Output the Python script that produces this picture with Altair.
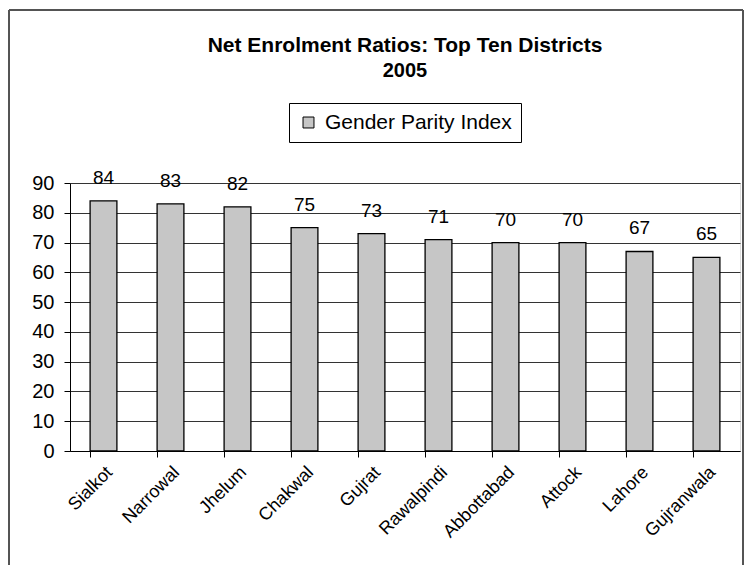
import altair as alt
import pandas as pd

districts = ["Sialkot", "Narrowal", "Jhelum", "Chakwal", "Gujrat", "Rawalpindi",
             "Abbottabad", "Attock", "Lahore", "Gujranwala"]
values = [84, 83, 82, 75, 73, 71, 70, 70, 67, 65]
series = "Gender Parity Index"
y_ticks = [0, 10, 20, 30, 40, 50, 60, 70, 80, 90]

df = pd.DataFrame({"district": districts, "value": values, "series": series})

FONT = "Liberation Sans"

x_enc = alt.X("district:N", sort=districts, title=None,
              scale=alt.Scale(paddingInner=0.6, paddingOuter=0.3),
              axis=alt.Axis(labelAngle=-45, labelFontSize=18, labelColor="black",
                            labelFont=FONT, bandPosition=0, tickSize=6,
                            tickColor="black", domainColor="black", labelPadding=6,
                            grid=False, labelOverlap=False))
y_enc = alt.Y("value:Q", title=None,
              scale=alt.Scale(domain=[0, 90], nice=False),
              axis=alt.Axis(values=y_ticks, labelFontSize=20, labelColor="black",
                            labelFont=FONT, tickSize=6, tickColor="black",
                            domainColor="black", gridColor="#333333", gridWidth=1,
                            labelPadding=10, labelOverlap=False))

bars = alt.Chart(df).mark_bar(stroke="black", strokeWidth=1.3).encode(
    x=x_enc, y=y_enc,
    color=alt.Color("series:N", scale=alt.Scale(range=["#c6c6c6"]),
                    legend=alt.Legend(title=None, orient="none", legendX=219, legendY=-80,
                                      labelFontSize=21, labelFont=FONT, labelColor="black",
                                      labelLimit=400,
                                      symbolType="square", symbolSize=120,
                                      symbolStrokeColor="black", symbolStrokeWidth=1,
                                      strokeColor="black", padding=9, labelOffset=6))
)

labels = alt.Chart(df).mark_text(fontSize=19, font=FONT, color="black",
                                 baseline="middle", dy=-23).encode(
    x=x_enc, y=y_enc,
    text=alt.Text("value:Q")
)

frame_style = dict(stroke="#555555", strokeWidth=1.2)
frame_top = alt.Chart(df).mark_rule(**frame_style).encode(
    x=alt.value(-61), x2=alt.value(673), y=alt.value(-173))
frame_left = alt.Chart(df).mark_rule(**frame_style).encode(
    x=alt.value(-61), y=alt.value(-173), y2=alt.value(400))
frame_right = alt.Chart(df).mark_rule(**frame_style).encode(
    x=alt.value(673), y=alt.value(-173), y2=alt.value(400))

chart = alt.layer(frame_top, frame_left, frame_right, bars, labels).properties(
    width=670, height=268,
    title=alt.TitleParams(text="Net Enrolment Ratios: Top Ten Districts",
                          subtitle="2005", fontSize=21, subtitleFontSize=20,
                          font=FONT, subtitleFont=FONT, fontWeight="bold",
                          subtitleFontWeight="bold", color="black", subtitleColor="black",
                          anchor="middle", offset=-72, subtitlePadding=5),
    autosize=alt.AutoSizeParams(type="none"),
    padding={"left": 62, "top": 175, "right": 5, "bottom": 114},
).configure_view(strokeWidth=0).configure(background="white")

chart.save("out.html", embed_options={"renderer": "svg", "actions": False})
